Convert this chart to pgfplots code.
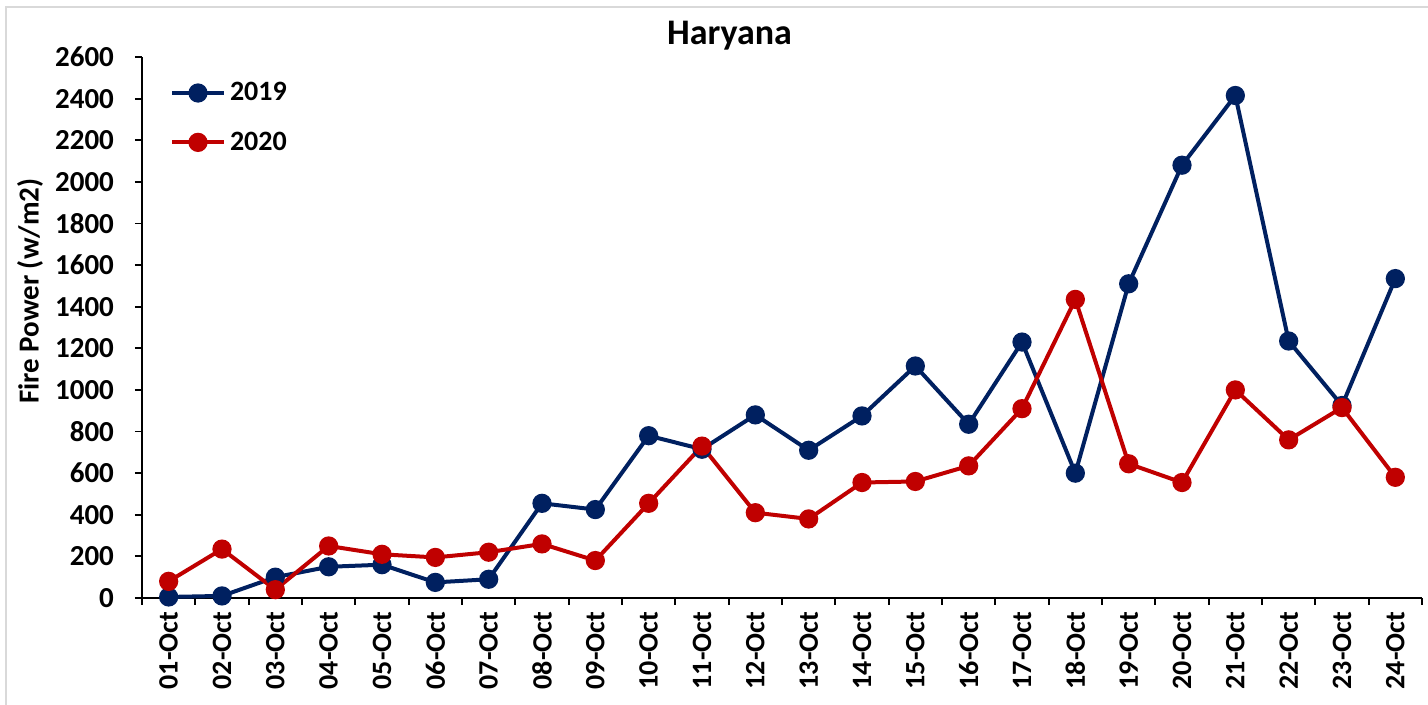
\documentclass[border=0pt]{standalone}
\usepackage{fontspec}
\setmainfont{Carlito}
\usepackage{pgfplots}
\pgfplotsset{compat=1.18}
\definecolor{navy}{HTML}{002060}
\definecolor{dred}{HTML}{C00000}
\begin{document}
\begin{tikzpicture}
\begin{axis}[
  scale only axis, width=640pt, height=270.5pt,
  xmin=0.5, xmax=24.5, ymin=0, ymax=2600,
  axis lines*=left,
  axis line style={line width=0.9pt, black},
  xtick={1,...,24},
  xticklabels={01-Oct,02-Oct,03-Oct,04-Oct,05-Oct,06-Oct,07-Oct,08-Oct,09-Oct,10-Oct,11-Oct,12-Oct,13-Oct,14-Oct,15-Oct,16-Oct,17-Oct,18-Oct,19-Oct,20-Oct,21-Oct,22-Oct,23-Oct,24-Oct},
  minor xtick={0.5,1.5,...,24.5},
  major x tick style={draw=none},
  ytick={0,200,...,2600},
  tick align=outside,
  major tick length=3.5pt, minor tick length=3.5pt,
  tick style={line width=0.9pt, black},
  /pgf/number format/assume math mode=true,
  /pgf/number format/1000 sep={},
  xticklabel style={rotate=90, anchor=east, font=\bfseries\fontsize{14}{14}\selectfont},
  yticklabel style={font=\bfseries\fontsize{14.5}{14.5}\selectfont, xshift=-7pt},
  ylabel={Fire Power (w/m2)},
  ylabel style={at={(axis description cs:-0.0875,0.567)}, anchor=center, font=\bfseries\fontsize{14.5}{14.5}\selectfont},
  title={Haryana},
  every axis title shift=0pt,
  title style={at={(axis description cs:0.459,1.039)}, anchor=center, yshift=0pt, font=\bfseries\fontsize{18}{18}\selectfont},
  legend style={at={(axis description cs:0.02,0.965)}, anchor=north west, draw=none, fill=none,
    font=\bfseries\fontsize{14}{14}\selectfont, row sep=10pt, inner sep=1pt},
  legend cell align=left,
  legend image code/.code={\draw[mark repeat=2, mark phase=2, #1] plot coordinates {(0pt,0pt) (13pt,0pt) (26pt,0pt)};},
  every axis plot/.append style={line width=2pt, mark=*, mark size=3.8pt, mark options={solid}},
  clip=false,
]
\addplot[color=navy, mark options={fill=navy, draw=navy}] coordinates {
(1,5) (2,10) (3,100) (4,150) (5,160) (6,75) (7,90) (8,455) (9,425) (10,780)
(11,715) (12,880) (13,710) (14,875) (15,1115) (16,835) (17,1230) (18,600)
(19,1510) (20,2080) (21,2415) (22,1235) (23,925) (24,1535)};
\addlegendentry{2019}
\addplot[color=dred, mark options={fill=dred, draw=dred}] coordinates {
(1,80) (2,235) (3,40) (4,250) (5,210) (6,195) (7,220) (8,260) (9,180) (10,455)
(11,730) (12,410) (13,380) (14,555) (15,560) (16,635) (17,910) (18,1435)
(19,645) (20,555) (21,1000) (22,760) (23,915) (24,580)};
\addlegendentry{2020}
\end{axis}
\draw[gray!30, line width=0.6pt] (-68pt,-60pt) rectangle (650pt,295.5pt);
\pgfresetboundingbox
\useasboundingbox (-71pt,-53.5pt) rectangle (643pt,299pt);
\end{tikzpicture}
\end{document}
